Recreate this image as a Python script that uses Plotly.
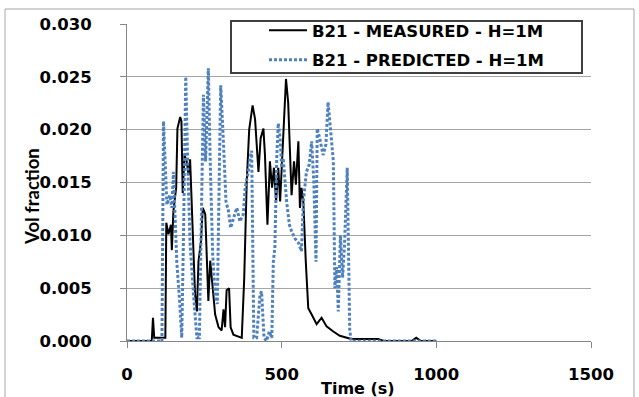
import plotly.graph_objects as go

# ---- data ----
measured_t = [0, 80, 84, 88, 124, 127, 134, 142, 145, 150, 159, 163, 172, 176, 180, 186, 193, 199, 204, 206,
              213, 220, 226, 231, 239, 245, 253, 258, 263, 269, 285, 296, 306, 312, 317, 322, 330, 335, 344,
              371, 379, 387, 395, 406, 414, 425, 432, 441, 446, 454, 462, 469, 475, 482, 489, 495, 505, 514,
              521, 527, 532, 540, 546, 554, 559, 564, 570, 578, 586, 597, 613, 629, 645, 667, 688, 725, 812,
              830, 920, 935, 950, 1000]
measured_v = [0, 0, 0.0022, 0.0003, 0.0003, 0.0112, 0.0101, 0.0110, 0.0086, 0.0123, 0.0145, 0.0201, 0.0212,
              0.0208, 0.0140, 0.0176, 0.0170, 0.0157, 0.0172, 0.0157,
              0.0088, 0.0044, 0.0028, 0.0075, 0.0094, 0.0126, 0.0120, 0.0075, 0.0038, 0.0076, 0.0025, 0.0013,
              0.0010, 0.0030, 0.0013, 0.0048, 0.0050, 0.0013, 0.0006,
              0.0003, 0.0060, 0.0150, 0.0200, 0.0223, 0.0210, 0.0160, 0.0192, 0.0201, 0.0176, 0.0110, 0.0170,
              0.0145, 0.0164, 0.0132, 0.0164, 0.0132, 0.0201, 0.0248,
              0.0226, 0.0186, 0.0138, 0.0170, 0.0148, 0.0189, 0.0126, 0.0145, 0.0132, 0.0075, 0.0031, 0.0025,
              0.0016, 0.0022, 0.0014, 0.0009, 0.0005, 0.0002, 0.0002,
              0, 0, 0.0003, 0, 0]

predicted_t = [0, 113, 118, 124, 129, 138, 145, 150, 161, 170, 177, 183, 190, 196, 204, 215, 226, 234, 242,
               247, 254, 263, 269, 277, 285, 292, 299, 303, 312, 320, 328, 335, 344, 355, 365, 376, 382, 392,
               398, 403, 410, 419, 430, 435, 443, 451, 460, 468, 473, 478, 484, 489, 495, 500, 505, 511, 516,
               525, 532, 543, 554, 564, 570, 580, 589, 597, 604, 611, 615, 623, 634, 643, 650, 656, 667, 672,
               678, 683, 690, 697, 703, 712, 720, 725, 1000]
predicted_v = [0, 0, 0.0208, 0.0154, 0.0129, 0.0138, 0.0126, 0.0160, 0.0075, 0.0038, 0.0003, 0.0107, 0.0250,
               0.0170, 0.0092, 0.0044, 0.0003, 0.0003, 0.0138,
               0.0233, 0.0170, 0.0258, 0.0170, 0.0082, 0.0044, 0.0035, 0.0170, 0.0242, 0.0186, 0.0132, 0.0123,
               0.0107, 0.0116, 0.0126, 0.0113, 0.0120, 0.0145, 0.0160,
               0.0173, 0.0180, 0.0003, 0.0003, 0.0044, 0.0047, 0.0003, 0.0, 0.0009, 0.0003, 0.0075, 0.0088,
               0.0173, 0.0206, 0.0192, 0.0164, 0.0173, 0.0145, 0.0132,
               0.0110, 0.0104, 0.0097, 0.0093, 0.0085, 0.0132, 0.0160, 0.0167, 0.0189, 0.0150, 0.0075, 0.0201,
               0.0192, 0.0176, 0.0186, 0.0226, 0.0207, 0.0170, 0.0050,
               0.0070, 0.0028, 0.0100, 0.0060, 0.0090, 0.0164, 0.0010, 0, 0]

series_names = ["B21 - MEASURED - H=1M", "B21 - PREDICTED - H=1M"]
x_title = "Time (s)"
y_title = "Vol fraction"

# ---- geometry helpers (pixel -> paper) ----
W, H = 639, 397
L, R, T, B = 127, 48, 24, 56
PW, PH = W - L - R, H - T - B
def xp(px):
    return (px - L) / PW
def yp(py):
    return (H - B - py) / PH

FONT = "DejaVu Sans"
GRID = "#A6A6A6"
AX = "#868686"

fig = go.Figure()
fig.add_trace(go.Scatter(x=measured_t, y=measured_v, mode="lines", name=series_names[0],
                         legendgroup="m", line=dict(color="#000000", width=2)))
fig.add_trace(go.Scatter(x=predicted_t, y=predicted_v, mode="lines", name=series_names[1],
                         legendgroup="p", line=dict(color="#4F81BD", width=3, dash="3px,2px")))

fig.update_layout(
    width=W, height=H,
    margin=dict(l=L, r=R, t=T, b=B, pad=0),
    paper_bgcolor="white", plot_bgcolor="white",
    font=dict(family=FONT, color="#000000"),
    showlegend=True,
    legend=dict(x=xp(264), y=yp(13), xanchor="left", yanchor="top",
                bgcolor="rgba(0,0,0,0)", borderwidth=0,
                font=dict(family=FONT, size=16.5, color="#000000", weight="bold"),
                itemwidth=38, tracegroupgap=5),
    xaxis=dict(range=[0, 1500], dtick=500, tick0=0, showgrid=False, zeroline=False,
               showline=True, linecolor=AX, linewidth=1,
               ticks="outside", ticklen=6, tickcolor=AX, ticklabelstandoff=12,
               tickfont=dict(family=FONT, size=16.5, weight="bold")),
    yaxis=dict(range=[0, 0.03], dtick=0.005, tick0=0, tickformat=".3f",
               showgrid=True, gridcolor=GRID, gridwidth=1, zeroline=False,
               showline=True, linecolor=AX, linewidth=1,
               ticks="outside", ticklen=6, tickcolor=AX, ticklabelstandoff=25,
               tickfont=dict(family=FONT, size=16.5, weight="bold")),
    shapes=[
        dict(type="rect", xref="paper", yref="paper", x0=xp(5), x1=xp(634), y0=yp(405), y1=yp(9),
             line=dict(color="#A6A6A6", width=1), fillcolor="rgba(0,0,0,0)", layer="below"),
        dict(type="rect", xref="paper", yref="paper", x0=xp(231), x1=xp(582), y0=yp(73), y1=yp(21),
             line=dict(color="#404040", width=2), fillcolor="white", layer="above"),
    ],
    annotations=[
        dict(text=x_title, xref="paper", yref="paper", x=xp(358), y=yp(388), xanchor="center",
             yanchor="middle", showarrow=False, font=dict(family=FONT, size=16, weight="bold")),
        dict(text=y_title, xref="paper", yref="paper", x=xp(32), y=yp(197), xanchor="center",
             yanchor="middle", textangle=-90, showarrow=False,
             font=dict(family="Lato", size=18.5, weight="bold")),
    ],
)

fig.write_html("out.html")
